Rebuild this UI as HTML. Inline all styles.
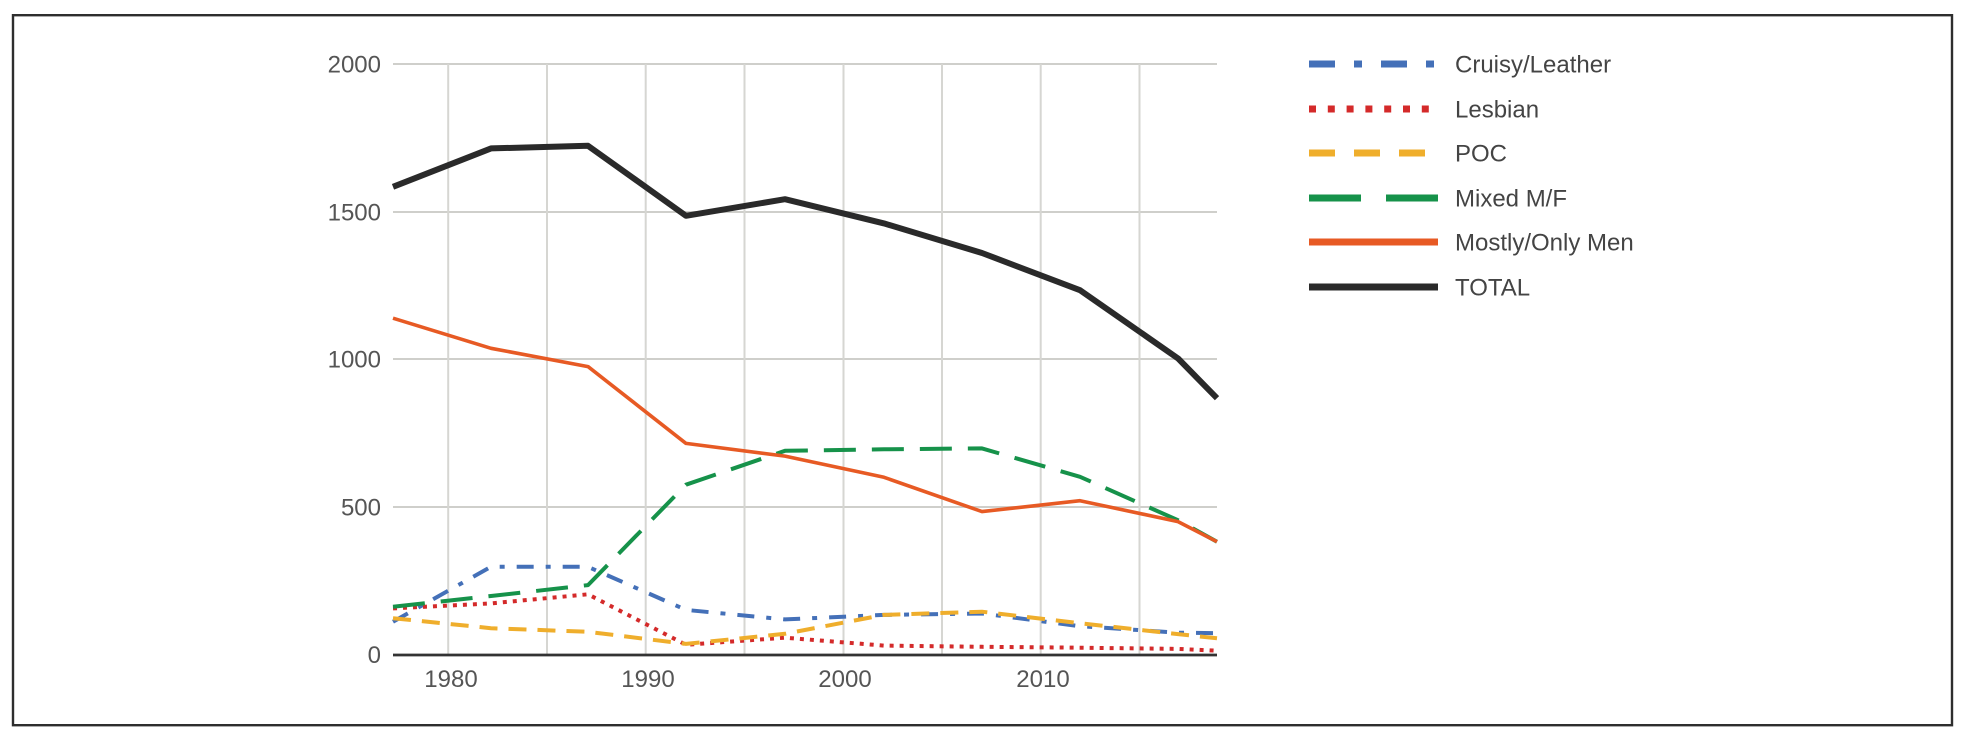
<!DOCTYPE html>
<html>
<head>
<meta charset="utf-8">
<style>
html,body{margin:0;padding:0;background:#fff;}
svg{display:block;}
text{font-family:"Liberation Sans",Arial,sans-serif;}
</style>
</head>
<body>
<svg width="1968" height="740" viewBox="0 0 1968 740" xmlns="http://www.w3.org/2000/svg">
<rect x="0" y="0" width="1968" height="740" fill="#ffffff"/>
<rect x="13" y="15.2" width="1939" height="710" fill="none" stroke="#2e2e2e" stroke-width="2.4"/>

<!-- horizontal gridlines -->
<g stroke="#cfcfcb" stroke-width="2">
<line x1="393" y1="64" x2="1217" y2="64"/>
<line x1="393" y1="212" x2="1217" y2="212"/>
<line x1="393" y1="359" x2="1217" y2="359"/>
<line x1="393" y1="507" x2="1217" y2="507"/>
</g>
<!-- vertical gridlines -->
<g stroke="#d6d6d2" stroke-width="2">
<line x1="448.2" y1="64" x2="448.2" y2="654"/>
<line x1="547" y1="64" x2="547" y2="654"/>
<line x1="645.7" y1="64" x2="645.7" y2="654"/>
<line x1="744.5" y1="64" x2="744.5" y2="654"/>
<line x1="843.5" y1="64" x2="843.5" y2="654"/>
<line x1="942" y1="64" x2="942" y2="654"/>
<line x1="1040.7" y1="64" x2="1040.7" y2="654"/>
<line x1="1139.5" y1="64" x2="1139.5" y2="654"/>
</g>

<!-- y labels -->
<g font-size="24" fill="#555" text-anchor="end">
<text x="381" y="72.5">2000</text>
<text x="381" y="220.5">1500</text>
<text x="381" y="367.5">1000</text>
<text x="381" y="515.5">500</text>
<text x="381" y="663">0</text>
</g>
<!-- x labels -->
<g font-size="24" fill="#555" text-anchor="middle">
<text x="451" y="687">1980</text>
<text x="648" y="687">1990</text>
<text x="845" y="687">2000</text>
<text x="1043" y="687">2010</text>
</g>

<!-- series -->
<g fill="none" stroke-linejoin="round">
<!-- Cruisy/Leather -->
<polyline stroke="#4470b8" stroke-width="4" stroke-dasharray="17 12 5 12"
 points="393,621.7 491,566.8 588,566.8 686,609.9 785,619.4 884,614.9 982,613.5 1080,626.2 1178,632.7 1217,633.2"/>
<!-- Lesbian -->
<polyline stroke="#d42a2a" stroke-width="4" stroke-dasharray="4 6"
 points="393,608.4 491,603.4 588,594.3 686,644.8 785,637.7 884,645.6 982,646.8 1080,647.7 1178,648.9 1217,650.7"/>
<!-- POC -->
<polyline stroke="#efae2c" stroke-width="4" stroke-dasharray="18 11"
 points="393,618.2 491,628.2 588,631.8 686,643.9 785,633.8 884,614.9 982,611.7 1080,623.2 1178,634.1 1217,638.3"/>
<!-- Mixed M/F -->
<polyline stroke="#16924a" stroke-width="4" stroke-dasharray="32 16"
 points="393,606.7 491,596 588,585.1 686,484.7 785,450.8 884,449.3 982,448.4 1080,476.8 1178,520.2 1217,541.7"/>
<!-- Mostly/Only Men -->
<polyline stroke="#e75a24" stroke-width="3.6"
 points="393,318.2 491,348.3 588,366.6 686,443.4 785,456.1 884,477.3 982,511.6 1080,500.7 1178,521.6 1217,541.7"/>
<!-- TOTAL -->
<polyline stroke="#2a2a2a" stroke-width="6"
 points="393,186.8 491,148.4 588,145.8 686,215.8 785,199.2 884,223.4 982,253 1080,290.2 1178,358.4 1217,398.2"/>
</g>

<!-- baseline -->
<line x1="393" y1="655" x2="1217" y2="655" stroke="#333" stroke-width="2.8"/>

<!-- legend -->
<g fill="none">
<line x1="1309" y1="64" x2="1438" y2="64" stroke="#4470b8" stroke-width="7" stroke-dasharray="26 19 8 19"/>
<line x1="1309" y1="109" x2="1438" y2="109" stroke="#d42a2a" stroke-width="7" stroke-dasharray="7 11.8"/>
<line x1="1309" y1="153" x2="1438" y2="153" stroke="#efae2c" stroke-width="7" stroke-dasharray="26 19"/>
<line x1="1309" y1="198" x2="1438" y2="198" stroke="#16924a" stroke-width="7" stroke-dasharray="52 25"/>
<line x1="1309" y1="242" x2="1438" y2="242" stroke="#e75a24" stroke-width="7"/>
<line x1="1309" y1="287" x2="1438" y2="287" stroke="#2a2a2a" stroke-width="7"/>
</g>
<g font-size="24" fill="#444">
<text x="1455" y="72.5">Cruisy/Leather</text>
<text x="1455" y="117.5">Lesbian</text>
<text x="1455" y="161.5">POC</text>
<text x="1455" y="206.5">Mixed M/F</text>
<text x="1455" y="250.5">Mostly/Only Men</text>
<text x="1455" y="295.5">TOTAL</text>
</g>
</svg>
</body>
</html>
